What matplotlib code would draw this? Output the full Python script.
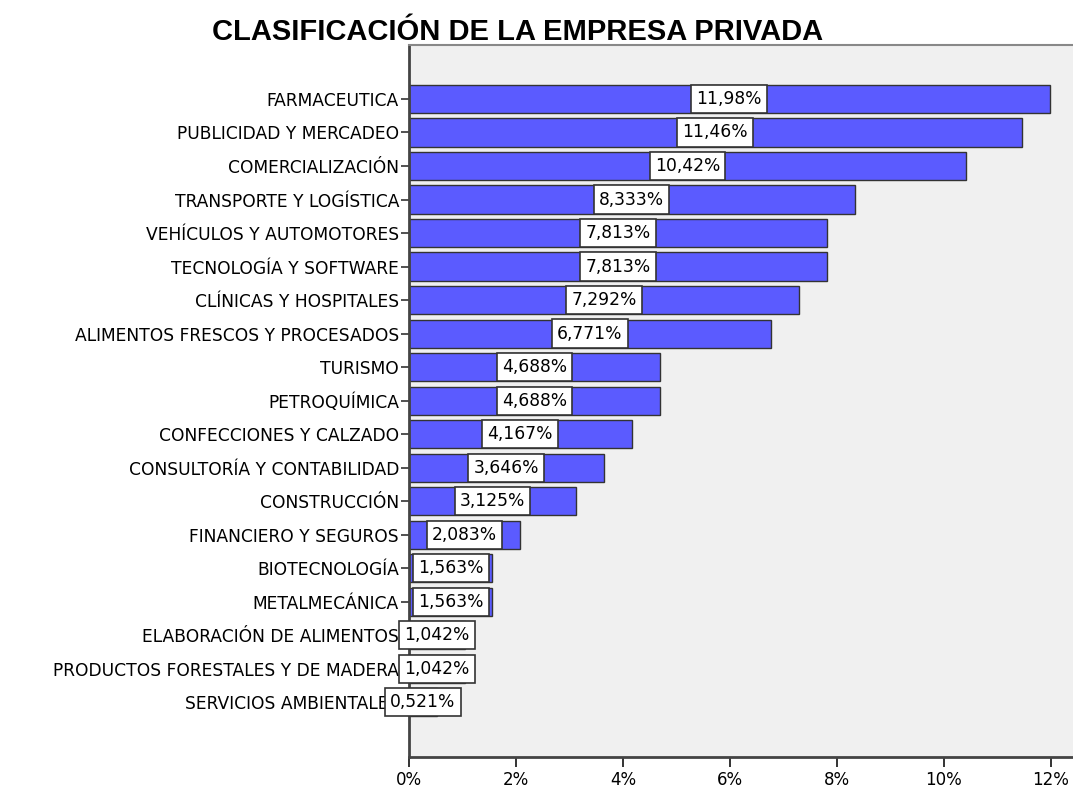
import matplotlib
import numpy as np
import matplotlib.pyplot as plt

matplotlib.use('Agg')

categories = [
    'FARMACEUTICA', 'PUBLICIDAD Y MERCADEO', 'COMERCIALIZACIÓN',
    'TRANSPORTE Y LOGÍSTICA', 'VEHÍCULOS Y AUTOMOTORES', 'TECNOLOGÍA Y SOFTWARE',
    'CLÍNICAS Y HOSPITALES', 'ALIMENTOS FRESCOS Y PROCESADOS', 'TURISMO',
    'PETROQUÍMICA', 'CONFECCIONES Y CALZADO', 'CONSULTORÍA Y CONTABILIDAD',
    'CONSTRUCCIÓN', 'FINANCIERO Y SEGUROS', 'BIOTECNOLOGÍA', 'METALMECÁNICA',
    'ELABORACIÓN DE ALIMENTOS', 'PRODUCTOS FORESTALES Y DE MADERA',
    'SERVICIOS AMBIENTALES',
]
values = [11.98, 11.46, 10.42, 8.333, 7.813, 7.813, 7.292, 6.771, 4.688,
          4.688, 4.167, 3.646, 3.125, 2.083, 1.563, 1.563, 1.042, 1.042, 0.521]
value_labels = ['11,98%', '11,46%', '10,42%', '8,333%', '7,813%', '7,813%',
                '7,292%', '6,771%', '4,688%', '4,688%', '4,167%', '3,646%',
                '3,125%', '2,083%', '1,563%', '1,563%', '1,042%', '1,042%',
                '0,521%']
x_ticks = [0, 2, 4, 6, 8, 10, 12]
x_tick_labels = ['0%', '2%', '4%', '6%', '8%', '10%', '12%']

plt.rcParams['font.family'] = ['DejaVu Sans']

fig = plt.figure(figsize=(10.73, 7.89), dpi=100)
ax = fig.add_axes([0.381, 0.0406, 0.6188, 0.9024])
ax.set_facecolor('#f0f0f0')

y = np.arange(len(categories))
ax.barh(y, values, height=0.84, color='#5b5bff', edgecolor='#333333', linewidth=1)

# etiquetas de porcentaje centradas en cada barra
for yi, v, lab in zip(y, values, value_labels):
    ax.text(v / 2, yi, lab, ha='center', va='center', fontsize=12.3,
            bbox=dict(boxstyle='square,pad=0.3', facecolor='white',
                      edgecolor='#333333', linewidth=1.2))

ax.set_ylim(19.63, -1.61)
ax.set_xlim(0, 12.41)
ax.set_yticks(y)
ax.set_yticklabels(categories, fontsize=12.3)
ax.set_xticks(x_ticks)
ax.set_xticklabels(x_tick_labels, fontsize=12)
ax.tick_params(axis='y', length=6, width=1.2, color='#333333', pad=1)
ax.tick_params(axis='x', length=7, width=1.4, color='#333333', pad=3)

ax.spines['left'].set_color('#444444')
ax.spines['left'].set_linewidth(2)
ax.spines['bottom'].set_color('#444444')
ax.spines['bottom'].set_linewidth(2)
ax.spines['top'].set_color('#888888')
ax.spines['top'].set_linewidth(1.5)
ax.spines['right'].set_visible(False)

fig.text(0.482, 0.959, 'CLASIFICACIÓN DE LA EMPRESA PRIVADA', ha='center',
         va='center', fontsize=21, fontweight='bold',
         family=['Liberation Sans', 'DejaVu Sans'])

plt.savefig('out.png', dpi=100)
